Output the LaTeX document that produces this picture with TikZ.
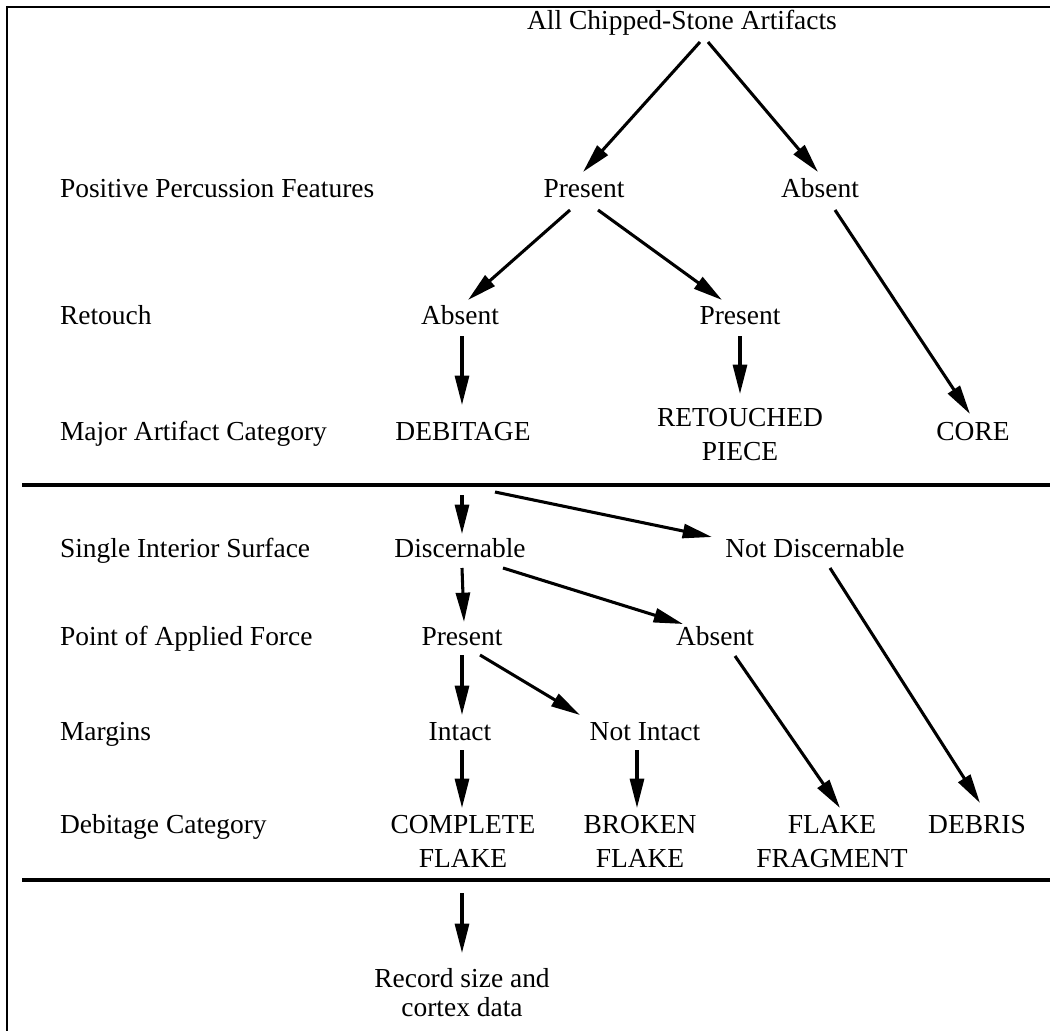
\documentclass[tikz,border=0pt]{standalone}
\usepackage{fontspec}
\setmainfont{Liberation Serif}
\usetikzlibrary{arrows.meta}
\newcommand{\twoline}[2]{\begin{tabular}[t]{@{}c@{}}#1\\#2\end{tabular}}
\begin{document}
\begin{tikzpicture}[x=0.75pt,y=-0.75pt,
  every node/.style={inner sep=0pt,outer sep=0pt,font=\fontsize{20.6pt}{25.5pt}\selectfont},
  lbl/.style={anchor=base west},
  itm/.style={anchor=base},
  arr/.style={line width=2.3pt,-{Triangle[length=22pt,width=10.5pt]}},
  hrule/.style={line width=3pt}]
\useasboundingbox (0,0) rectangle (1050,1031);
\draw[line width=1.6pt] (7,7) -- (1050,7);
\draw[line width=2.2pt] (7,6) -- (7,1031);
% rows
\node[itm] (all) at (682,30) {All Chipped-Stone Artifacts};
\node[lbl] (lPPF) at (60,197) {Positive Percussion Features};
\node[itm] (ppfP) at (584,197) {Present};
\node[itm] (ppfA) at (820,197) {Absent};
\node[lbl] (lRet) at (60,324) {Retouch};
\node[itm] (retA) at (460,324) {Absent};
\node[itm] (retP) at (740,324) {Present};
\node[lbl] (lMaj) at (60,440) {Major Artifact Category};
\node[itm] (deb) at (463,440) {DEBITAGE};
\node[itm] (rp) at (740,426) {\twoline{RETOUCHED}{PIECE}};
\node[itm] (core) at (973,440) {CORE};
\node[lbl] (lSIS) at (60,557) {Single Interior Surface};
\node[itm] (disc) at (460,557) {Discernable};
\node[itm] (ndisc) at (815,557) {Not Discernable};
\node[lbl] (lPAF) at (60,645) {Point of Applied Force};
\node[itm] (pafP) at (462,645) {Present};
\node[itm] (pafA) at (715,645) {Absent};
\node[lbl] (lMar) at (60,740) {Margins};
\node[itm] (intact) at (460,740) {Intact};
\node[itm] (nintact) at (645,740) {Not Intact};
\node[lbl] (lDC) at (60,833) {Debitage Category};
\node[itm] (cf) at (463,833) {\twoline{COMPLETE}{FLAKE}};
\node[itm] (bf) at (640,833) {\twoline{BROKEN}{FLAKE}};
\node[itm] (ff) at (832,833) {\twoline{FLAKE}{FRAGMENT}};
\node[itm] (debris) at (977,833) {DEBRIS};
\node[itm] (rec) at (462,987) {\renewcommand{\arraystretch}{0.88}\twoline{Record size and}{cortex data}};
% dividing rules
\draw[hrule] (22,485) -- (1050,485);
\draw[hrule] (22,880) -- (1050,880);
% connectors
\draw[arr] ([shift={(18,12)}]all.base) -- ([shift={(-1,-25)}]ppfP.base);
\draw[arr] ([shift={(26,12)}]all.base) -- ([shift={(-2,-25)}]ppfA.base);
\draw[arr] ([shift={(-14,13)}]ppfP.base) -- ([shift={(8,-24)}]retA.base);
\draw[arr] ([shift={(14,13)}]ppfP.base) -- ([shift={(-18,-24)}]retP.base);
\draw[arr] ([shift={(15,13)}]ppfA.base) -- ([shift={(-3,-26)}]core.base);
\draw[arr] ([shift={(2,12)}]retA.base) -- ([shift={(-1,-35)}]deb.base);
\draw[arr] ([shift={(0,12)}]retP.base) -- ([shift={(0,-32)}]rp.base);
\draw[arr] ([shift={(-1,55)}]deb.base) -- ([shift={(2,-23)}]disc.base);
\draw[arr] ([shift={(32,52)}]deb.base) -- ([shift={(-103,-20)}]ndisc.base);
\draw[arr] ([shift={(2,11)}]disc.base) -- ([shift={(2,-23)}]pafP.base);
\draw[arr] ([shift={(43,11)}]disc.base) -- ([shift={(-32,-21)}]pafA.base);
\draw[arr] ([shift={(15,11)}]ndisc.base) -- ([shift={(3,-30)}]debris.base);
\draw[arr] ([shift={(0,10)}]pafP.base) -- ([shift={(2,-25)}]intact.base);
\draw[arr] ([shift={(18,10)}]pafP.base) -- ([shift={(-65,-25)}]nintact.base);
\draw[arr] ([shift={(20,11)}]pafA.base) -- ([shift={(8,-25)}]ff.base);
\draw[arr] ([shift={(2,10)}]intact.base) -- ([shift={(-1,-25)}]cf.base);
\draw[arr] ([shift={(-8,10)}]nintact.base) -- ([shift={(-3,-25)}]bf.base);
\draw[arr] ([shift={(-1,60)}]cf.base) -- ([shift={(0,-34)}]rec.base);
\end{tikzpicture}
\end{document}
